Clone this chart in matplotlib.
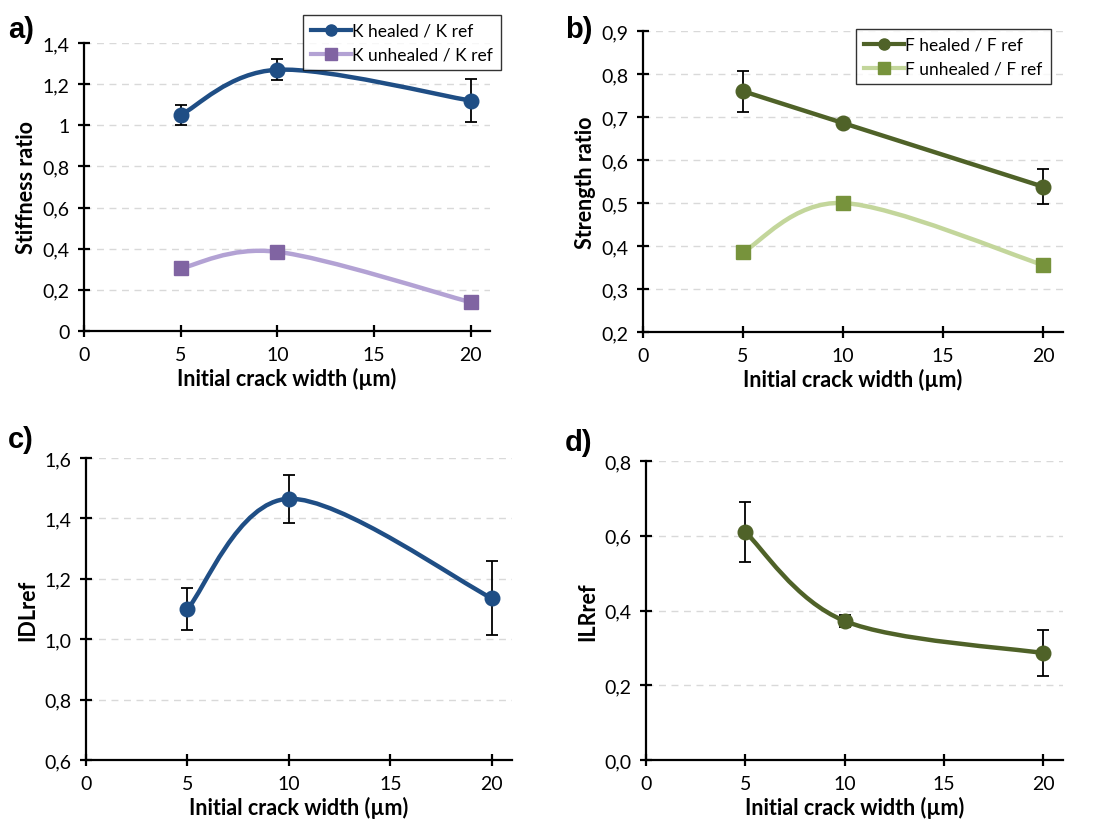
import matplotlib
matplotlib.use('Agg')
import matplotlib.pyplot as plt
import numpy as np
from matplotlib.path import Path
from matplotlib.patches import PathPatch
from matplotlib.lines import Line2D

plt.rcParams['font.family'] = ['Lato', 'DejaVu Sans']

# data
crack_width = [5, 10, 20]

k_healed = [1.05, 1.27, 1.12]
k_healed_err = [0.05, 0.05, 0.105]
k_unhealed = [0.305, 0.385, 0.14]

f_healed = [0.76, 0.686, 0.538]
f_healed_err = [0.048, 0.006, 0.04]
f_unhealed = [0.386, 0.5, 0.356]

idl_ref = [1.10, 1.465, 1.136]
idl_ref_err = [0.068, 0.08, 0.122]

ilr_ref = [0.61, 0.372, 0.286]
ilr_ref_err = [0.08, 0.015, 0.061]

x_ticks = [0, 5, 10, 15, 20]
a_ticks = [0, 0.2, 0.4, 0.6, 0.8, 1.0, 1.2, 1.4]
a_labels = ['0', '0,2', '0,4', '0,6', '0,8', '1', '1,2', '1,4']
b_ticks = [0.2, 0.3, 0.4, 0.5, 0.6, 0.7, 0.8, 0.9]
b_labels = ['0,2', '0,3', '0,4', '0,5', '0,6', '0,7', '0,8', '0,9']
c_ticks = [0.6, 0.8, 1.0, 1.2, 1.4, 1.6]
c_labels = ['0,6', '0,8', '1,0', '1,2', '1,4', '1,6']
d_ticks = [0.0, 0.2, 0.4, 0.6, 0.8]
d_labels = ['0,0', '0,2', '0,4', '0,6', '0,8']

BLUE = '#1f4e85'
PURPLE_LINE = '#b3a2d4'
PURPLE_MK = '#8064a2'
GREEN = '#4f6228'
GREEN_LINE = '#c3d69b'
GREEN_MK = '#77933c'

W, H = 1107, 829
fig = plt.figure(figsize=(W / 100, H / 100), dpi=100)


def px_axes(left, top, right, bottom):
    return fig.add_axes([left / W, 1 - bottom / H, (right - left) / W, (bottom - top) / H])


def smooth_line(ax, xs, ys, color, lw):
    # Excel-like smoothed line: Catmull-Rom segments as cubic Bezier curves
    pts = np.column_stack([xs, ys]).astype(float)
    n = len(pts)
    verts = [pts[0]]
    codes = [Path.MOVETO]
    for i in range(n - 1):
        p0 = pts[max(i - 1, 0)]
        p1 = pts[i]
        p2 = pts[i + 1]
        p3 = pts[min(i + 2, n - 1)]
        c1 = p1 + (p2 - p0) / 6
        c2 = p2 - (p3 - p1) / 6
        verts += [c1, c2, p2]
        codes += [Path.CURVE4] * 3
    ax.add_patch(PathPatch(Path(verts, codes), facecolor='none', edgecolor=color,
                           lw=lw, capstyle='round', joinstyle='round', zorder=2))


def style_axes(ax, yticks, ylabels, ylim, ylabel):
    ax.set_xlim(0, 21)
    ax.set_ylim(*ylim)
    ax.set_xticks(x_ticks)
    ax.set_yticks(yticks)
    ax.set_yticklabels(ylabels)
    for s in ['top', 'right']:
        ax.spines[s].set_visible(False)
    for s in ['left', 'bottom']:
        ax.spines[s].set_linewidth(1.6)
        ax.spines[s].set_color('black')
    ax.tick_params(direction='inout', length=9, width=1.6, labelsize=14, pad=6, colors='black')
    for t in yticks:
        if t != ylim[0]:
            ax.axhline(t, color='#d9d9d9', lw=1.0, dashes=(5, 4), zorder=0)
    ax.set_xlabel('Initial crack width (µm)', fontsize=15.5, fontweight='bold', labelpad=3)
    ax.set_ylabel(ylabel, fontsize=15.5, fontweight='bold', labelpad=4)


def err(ax, x, y, e):
    ax.errorbar(x, y, yerr=e, fmt='none', ecolor='black', elinewidth=1.3,
                capsize=4, capthick=1.3, zorder=3)


def add_legend(handles, labels, left, top):
    leg = fig.legend(handles, labels, loc='upper left',
                     bbox_to_anchor=(left / W, 1 - top / H), fontsize=12.5, frameon=True,
                     fancybox=False, edgecolor='black', handlelength=2.3, handletextpad=0.1,
                     borderpad=0.45, labelspacing=0.45, borderaxespad=0)
    leg.get_frame().set_linewidth(1.0)


# a) stiffness
ax_a = px_axes(84, 44, 490, 332)
style_axes(ax_a, a_ticks, a_labels, (0, 1.4), 'Stiffness ratio')
smooth_line(ax_a, crack_width, k_unhealed, PURPLE_LINE, 3.2)
ax_a.plot(crack_width, k_unhealed, 's', color=PURPLE_MK, ms=10, zorder=4)
smooth_line(ax_a, crack_width, k_healed, BLUE, 3.2)
err(ax_a, crack_width, k_healed, k_healed_err)
ax_a.plot(crack_width, k_healed, 'o', color=BLUE, ms=10.5, zorder=4)
h1 = Line2D([], [], color=BLUE, lw=3, marker='o', ms=8)
h2 = Line2D([], [], color=PURPLE_LINE, lw=3, marker='s', ms=8, mfc=PURPLE_MK, mec=PURPLE_MK)
add_legend([h1, h2], ['K healed / K ref', 'K unhealed / K ref'], 303, 16)

# b) strength
ax_b = px_axes(643, 32, 1063, 333)
style_axes(ax_b, b_ticks, b_labels, (0.2, 0.9), 'Strength ratio')
smooth_line(ax_b, crack_width, f_unhealed, GREEN_LINE, 3.2)
ax_b.plot(crack_width, f_unhealed, 's', color=GREEN_MK, ms=10, zorder=4)
ax_b.plot(crack_width, f_healed, '-', color=GREEN, lw=3.2, zorder=2)
err(ax_b, crack_width, f_healed, f_healed_err)
ax_b.plot(crack_width, f_healed, 'o', color=GREEN, ms=10.5, zorder=4)
h3 = Line2D([], [], color=GREEN, lw=3, marker='o', ms=8)
h4 = Line2D([], [], color=GREEN_LINE, lw=3, marker='s', ms=8, mfc=GREEN_MK, mec=GREEN_MK)
add_legend([h3, h4], ['F healed / F ref', 'F unhealed / F ref'], 856, 30)

# c) IDLref
ax_c = px_axes(86, 459, 512, 761)
style_axes(ax_c, c_ticks, c_labels, (0.6, 1.6), 'IDLref')
smooth_line(ax_c, crack_width, idl_ref, BLUE, 3.2)
err(ax_c, crack_width, idl_ref, idl_ref_err)
ax_c.plot(crack_width, idl_ref, 'o', color=BLUE, ms=10.5, zorder=4)

# d) ILRref
ax_d = px_axes(646, 462, 1063, 761)
style_axes(ax_d, d_ticks, d_labels, (0.0, 0.8), 'ILRref')
smooth_line(ax_d, crack_width, ilr_ref, GREEN, 3.2)
err(ax_d, crack_width, ilr_ref, ilr_ref_err)
ax_d.plot(crack_width, ilr_ref, 'o', color=GREEN, ms=10.5, zorder=4)

for lbl, x, y in [('a)', 8, 30), ('b)', 565, 30), ('c)', 8, 440), ('d)', 565, 443)]:
    fig.text(x / W, 1 - y / H, lbl, fontsize=21, fontweight='bold', va='center', ha='left',
             family=['Liberation Sans', 'DejaVu Sans'])

fig.savefig('out.png', dpi=100)
